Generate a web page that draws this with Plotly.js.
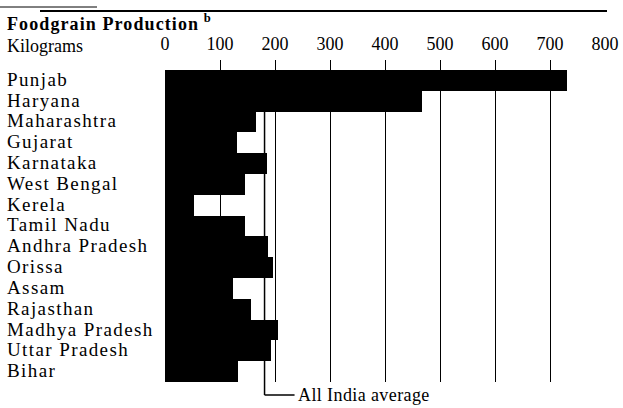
<!DOCTYPE html>
<html>
<head>
<meta charset="utf-8">
<script src="https://cdn.plot.ly/plotly-3.0.1.min.js"></script>
<style>
html,body{margin:0;padding:0;background:#fff;}
#chart{width:623px;height:408px;}
</style>
</head>
<body>
<div id="chart"></div>
<script>
// ---- data ----
const states = ["Punjab","Haryana","Maharashtra","Gujarat","Karnataka","West Bengal","Kerela","Tamil Nadu","Andhra Pradesh","Orissa","Assam","Rajasthan","Madhya Pradesh","Uttar Pradesh","Bihar"];
const production = [730, 467, 165, 130, 185, 146, 52, 146, 188, 197, 123, 157, 205, 192, 132];
const allIndiaAverage = 181;
const tickValues = [0,100,200,300,400,500,600,700,800];
const tickLabels = ["0","100","200","300","400","500","600","700","800"];
const titleMain = "Foodgrain Production";
const titleNote = "b";
const unitLabel = "Kilograms";
const averageLabel = "All India average";

// ---- layout geometry ----
const W = 623, H = 408;
const L = 165, R = 18, T = 60, B = 26;
const plotW = W - L - R, plotH = H - T - B;
const xMin = 0, xMax = 800;
const px2x = X => (X - L) / plotW;           // pixel -> paper x
const py2y = Y => (H - B - Y) / plotH;       // pixel -> paper y
const v2x = v => (v - xMin) / (xMax - xMin); // data -> paper x

const serif = "Liberation Serif, Times New Roman, serif";

const trace = {
  type: "bar",
  orientation: "h",
  y: states,
  x: production,
  marker: {color: "#000", line: {width: 0}},
  hoverinfo: "none"
};

const annotations = states.map(s => ({
  xref: "paper", yref: "y",
  x: px2x(5), y: s,
  xanchor: "left", yanchor: "middle",
  yshift: 1,
  showarrow: false,
  text: '<span style="letter-spacing:1.4px">' + s + '</span>',
  font: {family: serif, size: 19, color: "#000"}
}));
annotations.push({
  xref: "paper", yref: "paper",
  x: px2x(5), y: py2y(46),
  xanchor: "left", yanchor: "middle",
  showarrow: false,
  text: unitLabel,
  font: {family: serif, size: 18, color: "#000"}
});
annotations.push({
  xref: "paper", yref: "paper",
  x: v2x(allIndiaAverage), y: py2y(395),
  xanchor: "left", yanchor: "middle",
  xshift: 31,
  showarrow: false,
  text: '<span style="letter-spacing:0.4px">' + averageLabel + '</span>',
  font: {family: serif, size: 18, color: "#000"}
});
annotations.push({
  xref: "paper", yref: "paper",
  x: px2x(5), y: py2y(22),
  xanchor: "left", yanchor: "middle",
  showarrow: false,
  text: '<span style="letter-spacing:1.1px">' + titleMain + '</span> <sup>' + titleNote + '</sup>',
  font: {family: serif, size: 18, color: "#000", weight: "bold"}
});

const shapes = [
  // average marker line (behind bars) and leader
  {type: "line", xref: "paper", yref: "paper", layer: "below",
   x0: v2x(allIndiaAverage), x1: v2x(allIndiaAverage), y0: 1 - 0.48/15.48, y1: py2y(395),
   line: {color: "#000", width: 1.5}},
  {type: "line", xref: "paper", yref: "paper",
   x0: v2x(allIndiaAverage), x1: v2x(allIndiaAverage) + 30/plotW, y0: py2y(395), y1: py2y(395),
   line: {color: "#000", width: 1.5}},
  // top rules
  {type: "line", xref: "paper", yref: "paper",
   x0: px2x(0), x1: px2x(97), y0: py2y(7), y1: py2y(7),
   line: {color: "#000", width: 1}},
  {type: "line", xref: "paper", yref: "paper",
   x0: px2x(40), x1: px2x(607), y0: py2y(11), y1: py2y(11),
   line: {color: "#000", width: 2}}
];

const layout = {
  width: W, height: H,
  margin: {l: L, r: R, t: T, b: B, pad: 0},
  paper_bgcolor: "#fff", plot_bgcolor: "#fff",
  showlegend: false,
  bargap: 0,
  xaxis: {
    side: "top",
    range: [xMin, xMax],
    tickvals: tickValues,
    ticktext: tickLabels,
    ticks: "outside", ticklen: 2, tickcolor: "rgba(0,0,0,0)",
    tickfont: {family: serif, size: 18, color: "#000"},
    showgrid: true, gridcolor: "#000", gridwidth: 1,
    zeroline: false, showline: false,
    fixedrange: true
  },
  yaxis: {
    type: "category",
    categoryarray: states,
    range: [14.5, -0.98],
    showticklabels: false,
    showgrid: false, zeroline: false, showline: false,
    ticks: "",
    fixedrange: true
  },
  annotations: annotations,
  shapes: shapes
};

Plotly.newPlot("chart", [trace], layout, {displayModeBar: false, staticPlot: true});
</script>
</body>
</html>
